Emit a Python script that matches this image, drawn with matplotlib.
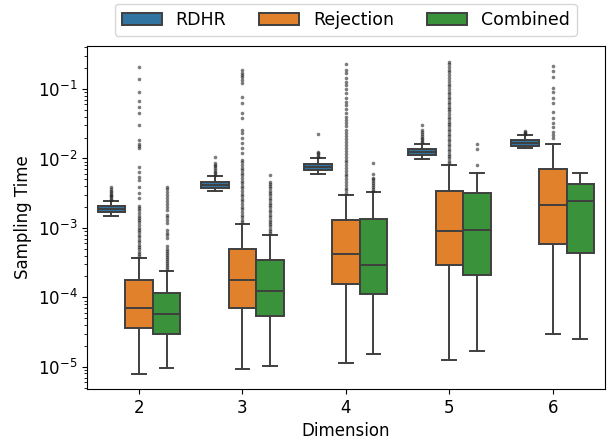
import matplotlib
matplotlib.use("Agg")
import matplotlib.pyplot as plt
from matplotlib.patches import Patch
import numpy as np

dims = [2, 3, 4, 5, 6]
methods = ["RDHR", "Rejection", "Combined"]
colors = ["#3274A1", "#E1812C", "#3A923A"]

# box statistics (one value per dimension)
rdhr_lo = [1.50e-3, 3.40e-3, 6.04e-3, 9.73e-3, 1.43e-2]
rdhr_q1 = [1.68e-3, 3.80e-3, 6.90e-3, 1.11e-2, 1.53e-2]
rdhr_med = [1.88e-3, 4.20e-3, 7.62e-3, 1.23e-2, 1.67e-2]
rdhr_q3 = [2.09e-3, 4.64e-3, 8.41e-3, 1.36e-2, 1.85e-2]
rdhr_hi = [2.47e-3, 5.60e-3, 1.03e-2, 1.63e-2, 2.18e-2]
rdhr_fliers = [
    [2.55e-3, 2.65e-3, 2.75e-3, 2.85e-3, 2.95e-3, 3.1e-3, 3.25e-3, 3.4e-3, 3.6e-3, 3.9e-3],
    [5.8e-3, 6.1e-3, 6.4e-3, 6.8e-3, 7.3e-3, 7.7e-3, 8.05e-3, 8.6e-3, 1.04e-2],
    [1.06e-2, 1.1e-2, 1.15e-2, 1.2e-2, 1.25e-2, 2.23e-2],
    [1.7e-2, 1.8e-2, 1.9e-2, 2.0e-2, 2.12e-2, 2.25e-2, 2.4e-2, 2.55e-2, 3.01e-2],
    [2.25e-2, 2.32e-2, 2.4e-2, 2.49e-2],
]

rej_lo = [7.85e-6, 9.35e-6, 1.13e-5, 1.26e-5, 2.99e-5]
rej_q1 = [3.61e-5, 7.13e-5, 1.56e-4, 2.94e-4, 5.82e-4]
rej_med = [7.0e-5, 1.79e-4, 4.27e-4, 9.14e-4, 2.12e-3]
rej_q3 = [1.75e-4, 4.99e-4, 1.30e-3, 3.40e-3, 7.13e-3]
rej_hi = [3.74e-4, 1.14e-3, 3.01e-3, 7.98e-3, 1.63e-2]
rej_fliers = [
    [3.9e-4, 4.2e-4, 4.5e-4, 4.9e-4, 5.3e-4, 5.7e-4, 6.2e-4, 6.7e-4, 7.3e-4, 7.9e-4,
     8.6e-4, 9.3e-4, 1.0e-3, 1.1e-3, 1.2e-3, 1.3e-3, 1.4e-3, 1.5e-3, 1.65e-3, 1.8e-3,
     1.95e-3, 2.07e-3, 2.7e-3, 3.19e-3, 3.89e-3, 4.91e-3, 5.42e-3, 6.40e-3, 7.55e-3,
     1.42e-2, 1.52e-2, 1.62e-2, 1.85e-2, 3.06e-2, 4.56e-2, 5.56e-2, 6.79e-2, 8.97e-2,
     0.141, 0.205],
    [1.2e-3, 1.3e-3, 1.42e-3, 1.55e-3, 1.7e-3, 1.85e-3, 2.0e-3, 2.2e-3, 2.4e-3, 2.6e-3,
     2.85e-3, 3.1e-3, 3.4e-3, 3.7e-3, 4.0e-3, 4.4e-3, 4.8e-3, 5.2e-3, 5.7e-3, 6.2e-3,
     6.8e-3, 7.4e-3, 8.1e-3, 8.8e-3, 9.5e-3, 1.19e-2, 1.40e-2, 1.66e-2, 1.95e-2,
     2.31e-2, 2.57e-2, 3.79e-2, 4.47e-2, 6.22e-2, 7.75e-2, 0.121, 0.134, 0.150,
     0.159, 0.168, 0.187],
    [3.2e-3, 3.5e-3, 3.8e-3, 4.2e-3, 4.6e-3, 5.0e-3, 5.5e-3, 6.0e-3, 6.6e-3, 7.2e-3,
     8.0e-3, 8.8e-3, 9.6e-3, 1.05e-2, 1.15e-2, 1.27e-2, 1.4e-2, 1.55e-2, 1.7e-2, 1.9e-2,
     2.1e-2, 2.3e-2, 2.6e-2, 2.9e-2, 3.2e-2, 3.6e-2, 4.0e-2, 4.5e-2, 5.1e-2, 5.8e-2,
     6.6e-2, 7.5e-2, 8.7e-2, 0.1, 0.115, 0.127, 0.143, 0.168, 0.187, 0.229],
    [8.5e-3, 9.2e-3, 1.0e-2, 1.08e-2, 1.17e-2, 1.27e-2, 1.38e-2, 1.5e-2, 1.63e-2,
     1.77e-2, 1.92e-2, 2.08e-2, 2.26e-2, 2.45e-2, 2.66e-2, 2.9e-2, 3.15e-2, 3.4e-2,
     3.7e-2, 4.0e-2, 4.4e-2, 4.8e-2, 5.2e-2, 5.6e-2, 6.1e-2, 6.6e-2, 7.2e-2, 7.8e-2,
     8.5e-2, 9.2e-2, 0.1, 0.11, 0.12, 0.13, 0.145, 0.16, 0.175, 0.19, 0.21, 0.23, 0.247],
    [1.95e-2, 2.18e-2, 2.43e-2, 2.81e-2, 3.21e-2, 3.79e-2, 4.71e-2, 6.22e-2, 7.50e-2,
     8.97e-2, 0.104, 0.150, 0.183, 0.216],
]

comb_lo = [9.57e-6, 1.03e-5, 1.52e-5, 1.68e-5, 2.55e-5]
comb_q1 = [2.96e-5, 5.47e-5, 1.11e-4, 2.13e-4, 4.32e-4]
comb_med = [5.73e-5, 1.23e-4, 2.90e-4, 9.35e-4, 2.44e-3]
comb_q3 = [1.17e-4, 3.47e-4, 1.35e-3, 3.16e-3, 4.34e-3]
comb_hi = [2.43e-4, 7.92e-4, 3.27e-3, 6.18e-3, 6.25e-3]
comb_fliers = [
    [2.55e-4, 2.7e-4, 2.9e-4, 3.1e-4, 3.3e-4, 3.55e-4, 3.8e-4, 4.1e-4, 4.4e-4, 4.7e-4,
     5.0e-4, 5.4e-4, 7.2e-4, 7.8e-4, 8.5e-4, 9.3e-4, 1.18e-3, 1.3e-3, 1.42e-3, 1.54e-3,
     1.82e-3, 2.0e-3, 2.2e-3, 2.45e-3, 2.7e-3, 3.0e-3, 3.3e-3, 3.6e-3, 3.93e-3],
    [8.4e-4, 9.0e-4, 9.7e-4, 1.05e-3, 1.13e-3, 1.22e-3, 1.32e-3, 1.43e-3, 1.55e-3,
     1.68e-3, 1.82e-3, 1.97e-3, 2.13e-3, 2.3e-3, 2.5e-3, 2.7e-3, 2.93e-3, 3.17e-3,
     3.43e-3, 3.7e-3, 4.0e-3, 4.3e-3, 4.59e-3, 5.79e-3],
    [3.45e-3, 3.65e-3, 3.9e-3, 4.15e-3, 4.4e-3, 4.7e-3, 5.0e-3, 5.3e-3, 6.04e-3, 8.71e-3],
    [7.98e-3, 1.37e-2, 1.63e-2],
    [],
]

series = [
    (rdhr_lo, rdhr_q1, rdhr_med, rdhr_q3, rdhr_hi, rdhr_fliers),
    (rej_lo, rej_q1, rej_med, rej_q3, rej_hi, rej_fliers),
    (comb_lo, comb_q1, comb_med, comb_q3, comb_hi, comb_fliers),
]

fig = plt.figure(figsize=(6.1, 4.47), dpi=100)
ax = fig.add_axes([0.143, 0.130, 0.848, 0.767])

line_col = "#3f3f3f"
w = 0.8 / 3
for k, (lo, q1, med, q3, hi, fl) in enumerate(series):
    stats = []
    for i in range(len(dims)):
        stats.append(dict(whislo=lo[i], q1=q1[i], med=med[i], q3=q3[i],
                          whishi=hi[i], fliers=np.array(fl[i])))
    pos = np.arange(len(dims)) + (k - 1) * w
    ax.bxp(stats, positions=pos, widths=w, capwidths=w / 2, patch_artist=True,
           showfliers=True, manage_ticks=False,
           boxprops=dict(facecolor=colors[k], edgecolor=line_col, linewidth=1.4),
           medianprops=dict(color=line_col, linewidth=1.4),
           whiskerprops=dict(color=line_col, linewidth=1.4),
           capprops=dict(color=line_col, linewidth=1.4),
           flierprops=dict(marker="o", markersize=2.6, markerfacecolor="0.15",
                           markeredgecolor="none", alpha=0.6))

ax.set_yscale("log")
ax.set_ylim(4.8e-6, 0.416)
ax.set_xlim(-0.5, len(dims) - 0.5)
ax.set_xticks(np.arange(len(dims)))
ax.set_xticklabels([str(d) for d in dims])
ax.tick_params(labelsize=12)
ax.set_xlabel("Dimension", fontsize=12)
ax.set_ylabel("Sampling Time", fontsize=12)

handles = [Patch(facecolor=c, edgecolor=line_col, linewidth=1.4, label=m)
           for c, m in zip(colors, methods)]
ax.legend(handles=handles, loc="lower center", bbox_to_anchor=(0.5, 1.005),
          ncol=3, fontsize=12.5, handlelength=2.3, columnspacing=1.9)

fig.savefig("out.png", dpi=100)
